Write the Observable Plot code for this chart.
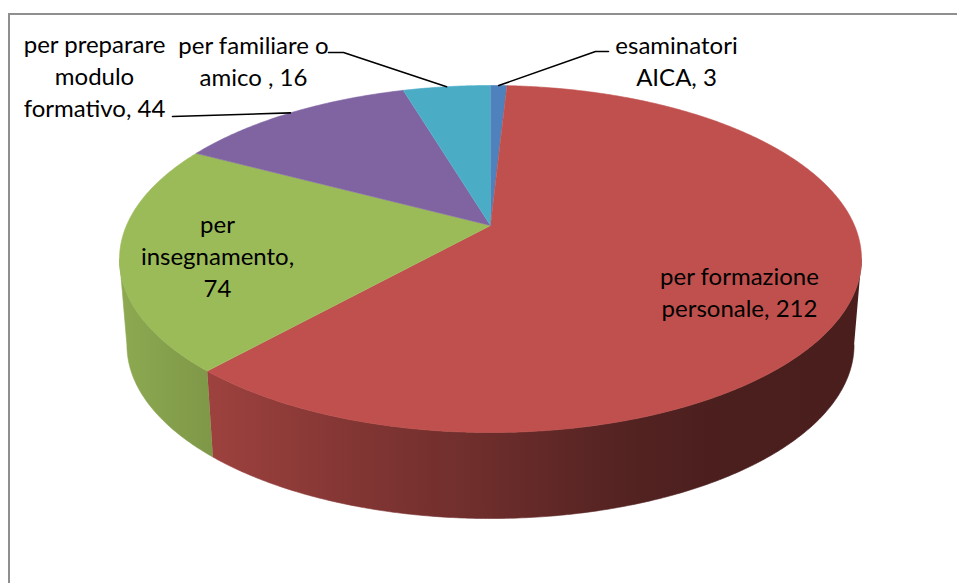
<!DOCTYPE html>
<html><head><meta charset="utf-8">
<script src="https://cdn.jsdelivr.net/npm/d3@7"></script>
<script src="https://cdn.jsdelivr.net/npm/@observablehq/plot@0.6"></script>
<style>
html,body{margin:0;padding:0;background:#fff;overflow:hidden;width:957px;height:583px;}
#frame{position:absolute;left:8px;top:13px;width:1000px;height:1000px;border-top:2px solid #8f8f8f;border-left:2px solid #8f8f8f;box-sizing:border-box;}
#chart{position:absolute;left:0;top:0;}
</style></head><body><div id="frame"></div><div id="chart"></div>
<script>
// ---- data ----
const categories = ["esaminatori AICA", "per formazione personale", "per insegnamento", "per preparare modulo formativo", "per familiare o amico"];
const values = [3, 212, 74, 44, 16];
const labelTexts = ["esaminatori\nAICA, 3", "per formazione\npersonale, 212", "per\ninsegnamento,\n74", "per preparare\nmodulo\nformativo, 44", "per familiare o\namico , 16"];
const colors = ["#4F81BD", "#C0504D", "#9BBB59", "#8064A2", "#4BACC6"];

// ---- layout (3D pie projection) ----
const W = 957, H = 583;
const CX = 490, R = 364, PC = 0.1931, PA = -123.6, PB = 225, DEPTH = 86, BOTTOM_SCALE = 0.98;
function proj(t, bottom) {
  const u = Math.sin(t), v = Math.cos(t), w = 1 + PC * v;
  let x = CX + R * u / w, y = (PA * v + PB) / w;
  if (bottom) { x = CX + (x - CX) * BOTTOM_SCALE; y += DEPTH; }
  return [x, y];
}
const labelAnchors = [[676, 59], [739, 290.5], [217, 254], [94, 74], [253, 59]];
const leaderStarts = [[[608, 51], [595, 51]], null, null, [[172, 116]], [[328, 52], [343, 52]]];

const total = d3.sum(values);
const TAU = Math.PI * 2;
const tR = Math.acos(-PC), tL = TAU - Math.acos(-PC);
function arc(a0, a1, bottom) {
  const n = Math.max(2, Math.ceil((a1 - a0) / (Math.PI / 360)));
  return d3.range(n + 1).map(k => proj(a0 + (a1 - a0) * k / n, bottom));
}
const topRows = [], sideRows = [], leadRows = [], labelRows = [];
let acc = 0;
values.forEach((val, i) => {
  const a0 = acc / total * TAU, a1 = (acc + val) / total * TAU;
  acc += val;
  // top face
  const pts = [[CX, PB], ...arc(a0, a1, false)];
  pts.forEach(([x, y]) => topRows.push({key: "top" + i, x, y, fill: colors[i]}));
  // side face
  const lo = Math.max(a0, tR), hi = Math.min(a1, tL);
  if (hi > lo) {
    const sp = [...arc(lo, hi, false), ...arc(lo, hi, true).reverse()];
    sp.forEach(([x, y]) => sideRows.push({key: "side" + i, x, y, fill: `url(#side-${i})`}));
  }
  // label + leader
  const [lx, ly] = labelAnchors[i];
  labelRows.push({x: lx, y: ly, text: labelTexts[i], cat: categories[i]});
  if (leaderStarts[i]) {
    const end = proj((a0 + a1) / 2, false);
    [...leaderStarts[i], end].forEach(([x, y]) => leadRows.push({key: "lead" + i, x, y}));
  }
});

const chart = Plot.plot({
  width: W, height: H, margin: 0,
  x: {domain: [0, W], range: [0, W], axis: null},
  y: {domain: [0, H], range: [0, H], axis: null},
  color: {type: "identity"},
  style: {background: "transparent", fontFamily: "Lato, 'Open Sans', sans-serif"},
  marks: [
    Plot.line(sideRows, {x: "x", y: "y", z: "key", fill: "fill", stroke: "fill", strokeWidth: 0.6, curve: "linear"}),
    Plot.line(topRows, {x: "x", y: "y", z: "key", fill: "fill", stroke: "fill", strokeWidth: 0.6, curve: "linear"}),
    Plot.line(leadRows, {x: "x", y: "y", z: "key", stroke: "#000", strokeWidth: 1.6, curve: "linear"}),
    Plot.text(labelRows, {x: "x", y: "y", text: "text", fontSize: 24, lineHeight: 1.33, fill: "#000", textAnchor: "middle", lineAnchor: "middle"})
  ]
});

// gradient defs for side shading (light from the left)
const shade = [[117, 0.91], [215, 0.81], [350, 0.68], [490, 0.56], [620, 0.44], [720, 0.39], [862, 0.38]];
const svg = d3.select(chart);
const defs = svg.insert("defs", ":first-child");
colors.forEach((c, i) => {
  const base = d3.rgb(c);
  const g = defs.append("linearGradient").attr("id", `side-${i}`)
    .attr("gradientUnits", "userSpaceOnUse").attr("x1", 117).attr("x2", 862).attr("y1", 0).attr("y2", 0);
  shade.forEach(([x, f]) => g.append("stop")
    .attr("offset", (x - 117) / (862 - 117))
    .attr("stop-color", d3.rgb(base.r * f, base.g * f, base.b * f).formatHex()));
});
document.getElementById("chart").appendChild(chart);
</script></body></html>
